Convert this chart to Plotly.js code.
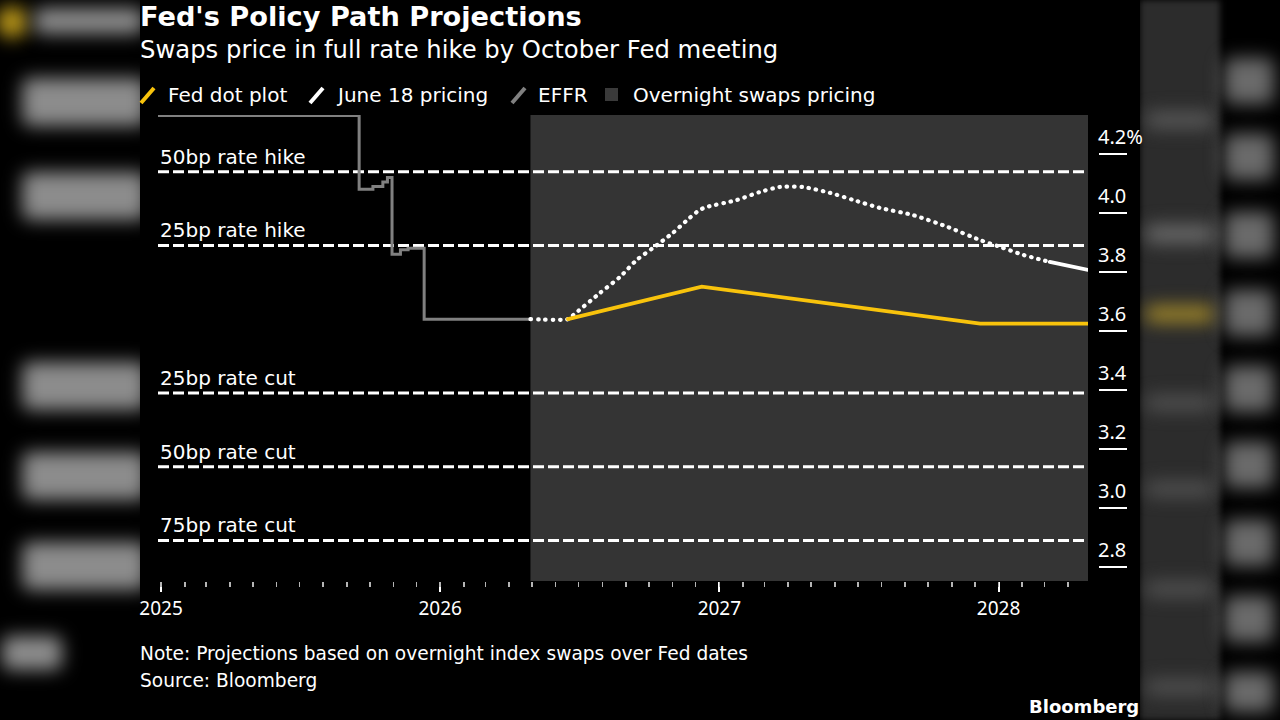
<!DOCTYPE html>
<html><head><meta charset="utf-8">
<script src="https://cdn.plot.ly/plotly-3.0.1.min.js"></script>
<style>
html,body{margin:0;padding:0;background:#000;width:1280px;height:720px;overflow:hidden;}
#bg{position:absolute;left:0;top:0;width:1280px;height:720px;overflow:hidden;}
.blob{position:absolute;background:#8c8c8c;filter:blur(9px);border-radius:8px;}
#rcol{position:absolute;left:1140px;top:0;width:80px;height:720px;background:#2c2c2c;filter:blur(3px);}
#panel{position:absolute;left:140px;top:0;width:1000px;height:720px;background:#000;}
#chart{position:absolute;left:0;top:0;width:1280px;height:720px;}
.js-line{stroke-linecap:round;}
</style></head>
<body>
<div id="bg">
  <div id="rcol"></div>
  <div class="blob" style="left:-4px;top:6px;width:32px;height:32px;border-radius:16px;background:#b8961a;"></div>
  <div class="blob" style="left:34px;top:8px;width:110px;height:26px;"></div>
  <div class="blob" style="left:22px;top:78px;width:125px;height:48px;"></div>
  <div class="blob" style="left:22px;top:172px;width:125px;height:48px;"></div>
  <div class="blob" style="left:22px;top:362px;width:125px;height:48px;"></div>
  <div class="blob" style="left:22px;top:452px;width:125px;height:48px;"></div>
  <div class="blob" style="left:22px;top:542px;width:125px;height:48px;"></div>
  <div class="blob" style="left:2px;top:636px;width:60px;height:34px;"></div>
  <div class="blob" style="left:1145px;top:112px;width:70px;height:16px;background:#5a5a5a;"></div>
  <div class="blob" style="left:1145px;top:225px;width:70px;height:18px;background:#6a6a6a;"></div>
  <div class="blob" style="left:1145px;top:306px;width:70px;height:16px;background:#a48a2a;"></div>
  <div class="blob" style="left:1145px;top:396px;width:70px;height:14px;background:#555;"></div>
  <div class="blob" style="left:1145px;top:482px;width:70px;height:14px;background:#555;"></div>
  <div class="blob" style="left:1145px;top:582px;width:70px;height:14px;background:#555;"></div>
  <div class="blob" style="left:1145px;top:680px;width:70px;height:14px;background:#555;"></div>
  <div class="blob" style="left:1224px;top:58px;width:50px;height:46px;background:#6a6a6a;"></div>
  <div class="blob" style="left:1224px;top:134px;width:50px;height:46px;background:#6a6a6a;"></div>
  <div class="blob" style="left:1224px;top:212px;width:50px;height:46px;background:#6a6a6a;"></div>
  <div class="blob" style="left:1224px;top:290px;width:50px;height:46px;background:#6a6a6a;"></div>
  <div class="blob" style="left:1224px;top:366px;width:50px;height:46px;background:#6a6a6a;"></div>
  <div class="blob" style="left:1224px;top:442px;width:50px;height:46px;background:#6a6a6a;"></div>
  <div class="blob" style="left:1224px;top:520px;width:50px;height:46px;background:#6a6a6a;"></div>
  <div class="blob" style="left:1224px;top:596px;width:50px;height:46px;background:#6a6a6a;"></div>
  <div class="blob" style="left:1224px;top:672px;width:50px;height:40px;background:#6a6a6a;"></div>
</div>
<div id="panel"></div>
<div id="chart"></div>
<script>
// ---- Data ----
const effrDates  = ['2024-12-28','2025-09-17','2025-10-05','2025-10-18','2025-10-24','2025-10-30','2025-11-10','2025-11-20','2025-12-11','2026-04-29'];
const effrValues = [4.33, 4.08, 4.09, 4.105, 4.12, 3.86, 3.875, 3.88, 3.64, 3.64];

const pricingDates  = ['2026-04-29','2026-06-17','2026-06-24','2026-07-29','2026-08-24','2026-09-15','2026-10-06','2026-11-01','2026-11-23','2026-12-06','2026-12-15','2027-01-24','2027-02-23','2027-03-21','2027-04-20','2027-05-26','2027-06-25','2027-07-30','2027-09-11','2027-10-26','2027-12-08','2028-01-03','2028-02-02','2028-03-08'];
const pricingValues = [3.64, 3.64, 3.654, 3.729, 3.783, 3.841, 3.881, 3.932, 3.983, 4.010, 4.020, 4.044, 4.071, 4.088, 4.088, 4.068, 4.044, 4.017, 3.993, 3.953, 3.908, 3.885, 3.858, 3.834];

const june18Dates  = ['2028-03-08','2028-04-27'];
const june18Values = [3.834, 3.807];

const dotPlotDates  = ['2026-06-17','2026-12-09','2027-12-08','2028-04-27'];
const dotPlotValues = [3.64, 3.75, 3.625, 3.625];

const refLevels = [4.14, 3.89, 3.39, 3.14, 2.89];
const refLabels = ['50bp rate hike','25bp rate hike','25bp rate cut','50bp rate cut','75bp rate cut'];

const yTickVals = [2.8, 3.0, 3.2, 3.4, 3.6, 3.8, 4.0, 4.2];
const yTickText = ['2.8','3.0','3.2','3.4','3.6','3.8','4.0','4.2%'];

const xTickVals = ['2025-01-01','2026-01-01','2027-01-01','2028-01-01'];
const xTickText = ['2025','2026','2027','2028'];

const swapsStart = '2026-04-29';
const xStart = '2024-12-28', xEnd = '2028-04-27';

const legendNames  = ['Fed dot plot','June 18 pricing','EFFR','Overnight swaps pricing'];
const legendColors = ['#f8c30c','#ffffff','#808080','#3a3a3a'];

// ---- Layout helpers (pixel -> paper) ----
const ML = 158, MR = 40, MT = 115, MB = 139, W = 1280, H = 720;
const PW = W - ML - MR, PH = H - MT - MB;
const px = x => (x - ML) / PW;
const py = y => (H - MB - y) / PH;

const FONT = 'DejaVu Sans, Verdana, sans-serif';
const NUMFONT = 'Noto Sans, Open Sans, sans-serif';
const YELLOW = legendColors[0];

const traces = [
  {x: effrDates, y: effrValues, mode: 'lines', line: {shape: 'hv', color: legendColors[2], width: 3}, hoverinfo: 'skip'},
  {x: pricingDates, y: pricingValues, mode: 'lines', line: {shape: 'spline', smoothing: 0.6, color: '#ffffff', width: 4.2, dash: '0.5px,6.8px'}, hoverinfo: 'skip'},
  {x: june18Dates, y: june18Values, mode: 'lines', line: {color: '#ffffff', width: 3.8}, hoverinfo: 'skip'},
  {x: dotPlotDates, y: dotPlotValues, mode: 'lines', line: {color: YELLOW, width: 3.8}, hoverinfo: 'skip'},
  // invisible helper so the monthly minor-tick axis is drawn
  {x: [xStart, xEnd], y: [3.64, 3.64], xaxis: 'x2', mode: 'lines', line: {width: 0}, opacity: 0, hoverinfo: 'skip'}
];

const shapes = [
  {type: 'rect', xref: 'x', yref: 'paper', x0: swapsStart, x1: xEnd, y0: 0, y1: 1, fillcolor: '#343434', line: {width: 0}, layer: 'below'}
];
refLevels.forEach(v => shapes.push({type: 'line', xref: 'x domain', yref: 'y', x0: 0, x1: 1, y0: v, y1: v, line: {color: '#ffffff', width: 3, dash: '11px,4px'}, layer: 'below'}));

// legend icons
const legIconX = [141, 310, 512];
legIconX.forEach((x, i) => shapes.push({type: 'line', xref: 'paper', yref: 'paper', x0: px(x), x1: px(x + 13), y0: py(103), y1: py(88), line: {color: legendColors[i], width: 4}}));
shapes.push({type: 'rect', xref: 'paper', yref: 'paper', x0: px(605), x1: px(618), y0: py(101), y1: py(88), fillcolor: legendColors[3], line: {width: 0}});

const annotations = [];
const legTextX = [166, 334, 536, 631];
legendNames.forEach((n, i) => annotations.push({text: n, xref: 'paper', yref: 'paper', x: px(legTextX[i]), y: py(95), xanchor: 'left', yanchor: 'middle', showarrow: false, font: {family: FONT, size: 20, color: '#ffffff'}}));
refLabels.forEach((t, i) => annotations.push({text: t, xref: 'paper', yref: 'y', x: px(158), y: refLevels[i], xanchor: 'left', yanchor: 'bottom', yshift: 1, showarrow: false, font: {family: FONT, size: 20, color: '#ffffff'}}));

annotations.push({text: "<b>Fed's Policy Path Projections</b>", xref: 'paper', yref: 'paper', x: px(138), y: py(17), xanchor: 'left', yanchor: 'middle', showarrow: false, font: {family: FONT, size: 27.2, color: '#ffffff'}});
annotations.push({text: 'Swaps price in full rate hike by October Fed meeting', xref: 'paper', yref: 'paper', x: px(138), y: py(49), xanchor: 'left', yanchor: 'middle', showarrow: false, font: {family: FONT, size: 24.3, color: '#ffffff'}});
annotations.push({text: 'Note: Projections based on overnight index swaps over Fed dates', xref: 'paper', yref: 'paper', x: px(138), y: py(653), xanchor: 'left', yanchor: 'middle', showarrow: false, font: {family: FONT, size: 18.6, color: '#ffffff'}});
annotations.push({text: 'Source: Bloomberg', xref: 'paper', yref: 'paper', x: px(138), y: py(680), xanchor: 'left', yanchor: 'middle', showarrow: false, font: {family: FONT, size: 18.6, color: '#ffffff'}});
annotations.push({text: '<b>Bloomberg</b>', xref: 'paper', yref: 'paper', x: px(1141), y: py(706), xanchor: 'right', yanchor: 'middle', showarrow: false, font: {family: FONT, size: 18, color: '#ffffff'}});

const layout = {
  width: W, height: H,
  margin: {l: ML, r: MR, t: MT, b: MB, pad: 0},
  paper_bgcolor: 'rgba(0,0,0,0)', plot_bgcolor: 'rgba(0,0,0,0)',
  showlegend: false,
  font: {family: FONT, color: '#ffffff'},
  xaxis2: {
    type: 'date', domain: [0, px(1088)], range: [xStart, xEnd], overlaying: 'x',
    anchor: 'free', position: 0,
    showgrid: false, zeroline: false, showline: false, showticklabels: false,
    tickmode: 'linear', tick0: xTickVals[0], dtick: 'M1',
    ticks: 'outside', ticklen: 5, tickwidth: 1.5, tickcolor: '#b5b5b5',
    fixedrange: true
  },
  xaxis: {
    type: 'date', domain: [0, px(1088)], range: [xStart, xEnd],
    anchor: 'free', position: 0,
    showgrid: false, zeroline: false, showline: false,
    tickmode: 'array', tickvals: xTickVals, ticktext: xTickText,
    ticks: 'outside', ticklen: 10, tickwidth: 2, tickcolor: '#ffffff',
    tickfont: {family: NUMFONT, size: 19, color: '#ffffff'},
    fixedrange: true
  },
  yaxis: {
    range: [2.7525, 4.332], anchor: 'free', position: px(1098), side: 'right',
    showgrid: false, zeroline: false, showline: false,
    tickmode: 'array', tickvals: yTickVals, ticktext: yTickText,
    ticks: 'outside', ticklen: 28, tickwidth: 2, tickcolor: '#ffffff',
    ticklabelposition: 'outside top', ticklabelstandoff: -5, ticklabelshift: -2,
    tickfont: {family: NUMFONT, size: 20, color: '#ffffff'},
    fixedrange: true
  },
  shapes: shapes,
  annotations: annotations
};

Plotly.newPlot('chart', traces, layout, {displayModeBar: false, staticPlot: true});
</script>
</body></html>
